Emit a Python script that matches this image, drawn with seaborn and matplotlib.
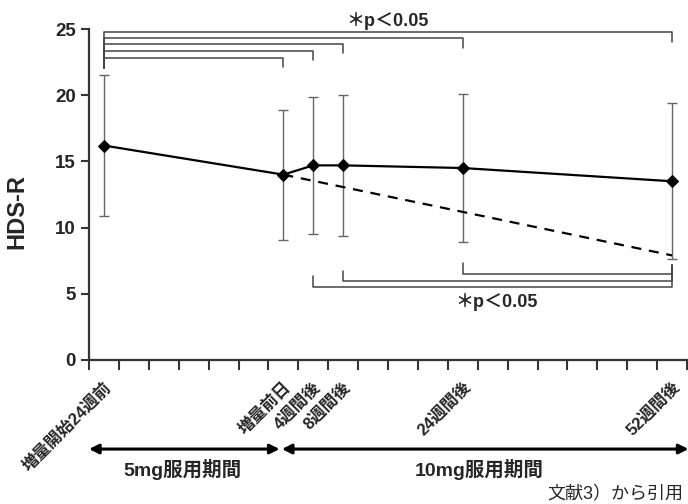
import matplotlib
matplotlib.use('Agg')
import matplotlib.pyplot as plt
import numpy as np
import pandas as pd
import seaborn as sns

# HDS-R score over time (weeks relative to dose increase)
weeks = [-24, 0, 4, 8, 24, 52]
week_labels = ['増量開始24週前', '増量前日', '4週間後', '8週間後', '24週間後', '52週間後']
hds_mean = [16.2, 14.0, 14.7, 14.7, 14.5, 13.5]
hds_sd = [5.3, 4.9, 5.2, 5.3, 5.6, 5.9]

# projected decline without dose increase
proj_weeks = [0, 52]
proj_values = [14.0, 7.9]

# significance brackets: first group compares -24w to each later point
top_targets = [0, 4, 8, 24, 52]
top_levels = [22.83, 23.36, 23.89, 24.32, 24.77]
# second group compares 4w / 8w / 24w to 52w
bottom_sources = [4, 8, 24]
bottom_levels = [5.54, 5.97, 6.47]
bottom_tops = [6.34, 6.72, 7.30]

sns.set_style('ticks')
plt.rcParams['font.family'] = ['Liberation Sans', 'Noto Sans CJK JP', 'DejaVu Sans']

fig = plt.figure(figsize=(6.88, 5.04), dpi=100)
ax = fig.add_axes([89 / 688, 1 - 360 / 504, 598 / 688, 331 / 504])

df = pd.DataFrame({'week': weeks, 'score': hds_mean})

# error bars (gray, behind)
ax.errorbar(weeks, hds_mean, yerr=hds_sd, fmt='none', ecolor='#666666',
            elinewidth=1.0, capsize=3.6, capthick=1.0, zorder=1)

# projected dashed line
ax.plot(proj_weeks, proj_values, color='black', lw=1.6, ls=(0, (4.5, 3.5)), zorder=2)

# main line with diamonds
sns.lineplot(data=df, x='week', y='score', ax=ax, color='black', lw=1.6,
             marker='D', markersize=6.5, markeredgecolor='black', zorder=3)

bracket_color = '#444444'
bracket_lw = 1.1

# top brackets
for tx, lvl in zip(top_targets, top_levels):
    ax.plot([weeks[0], weeks[0], tx, tx], [22.03, lvl, lvl, lvl - 0.72],
            color=bracket_color, lw=bracket_lw, zorder=1)
ax.text(14.0, 25.6, '＊p＜0.05', ha='center', va='center', fontsize=13,
        fontweight='bold', clip_on=False)

# bottom brackets
for sx, lvl, top in zip(bottom_sources, bottom_levels, bottom_tops):
    ax.plot([sx, sx, 52, 52], [top, lvl, lvl, 7.18],
            color=bracket_color, lw=bracket_lw, zorder=1)
ax.text(28.5, 4.4, '＊p＜0.05', ha='center', va='center', fontsize=13,
        fontweight='bold')

ax.set_xlim(-26, 54)
ax.set_ylim(0, 25)
ax.set_yticks(np.arange(0, 26, 5))
ax.set_xticks(np.arange(-26, 55, 4))
ax.set_xticklabels([])
ax.set_xticks(weeks, minor=True)
ax.set_xticklabels(week_labels, minor=True, rotation=45, ha='right', va='top',
                   rotation_mode='anchor', fontsize=12, fontweight='bold')
ax.tick_params(axis='x', which='minor', length=0, pad=14)
ax.tick_params(axis='x', which='major', length=7, width=1.5, color='#333333', direction='out')
ax.tick_params(axis='y', length=6, width=1.5, color='#333333', direction='out',
               labelsize=13.5)
for lbl in ax.get_yticklabels():
    lbl.set_fontweight('bold')

sns.despine(ax=ax)
for side in ['left', 'bottom']:
    ax.spines[side].set_linewidth(1.6)
    ax.spines[side].set_color('#333333')

ax.set_xlabel('')
ax.set_ylabel('HDS-R', fontsize=17, fontweight='bold')
ax.yaxis.set_label_coords(-0.102, 0.447)

# dosing period arrows below the axis
trans = ax.get_xaxis_transform()
arrow_kw = dict(arrowstyle='<|-|>', color='black', lw=2.2, mutation_scale=14,
                shrinkA=0, shrinkB=0)
ax.annotate('', xy=(-26, -0.269), xytext=(-0.5, -0.269), xycoords=trans,
            textcoords=trans, arrowprops=arrow_kw, annotation_clip=False)
ax.annotate('', xy=(-0.2, -0.269), xytext=(54.2, -0.269), xycoords=trans,
            textcoords=trans, arrowprops=arrow_kw, annotation_clip=False)
ax.text(-13.5, -0.332, '5mg服用期間', transform=trans, ha='center', va='center',
        fontsize=14, fontweight='bold')
ax.text(26.2, -0.332, '10mg服用期間', transform=trans, ha='center', va='center',
        fontsize=14, fontweight='bold')

fig.text(683 / 688, 1 - 495 / 504, '文献3）から引用', ha='right', va='center', fontsize=13)

fig.savefig('out.png', dpi=100)
